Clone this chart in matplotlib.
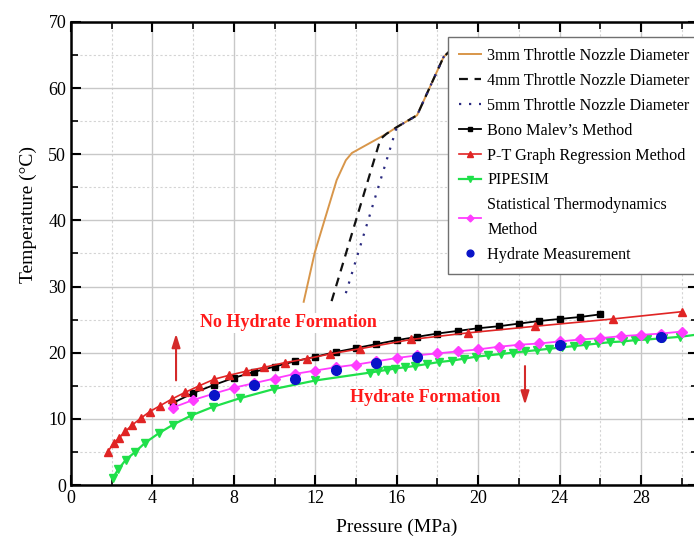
import matplotlib
matplotlib.use('Agg')
import matplotlib.pyplot as plt
from matplotlib.ticker import MultipleLocator

plt.rcParams['font.family'] = ['Liberation Serif', 'DejaVu Serif']

# throttle nozzle curves
nozzle3_p = [11.43, 11.97, 12.46, 13.05, 13.5, 13.8, 15.5, 16.0, 17.0, 18.3, 18.6]
nozzle3_t = [27.7, 35.1, 40.1, 46.1, 49.1, 50.2, 53.1, 54.1, 55.9, 64.7, 65.6]
nozzle4_p = [12.8, 15.2, 15.5, 16.0, 17.0, 18.3, 18.6]
nozzle4_t = [27.8, 52.3, 53.1, 54.1, 55.9, 64.7, 65.6]
nozzle5_p = [13.5, 16.0, 17.0, 18.3, 18.6]
nozzle5_t = [29.0, 54.1, 55.9, 64.7, 65.6]

# Bono Malev's method
bono_p = list(range(5, 27))
bono_t = [12.4, 13.9, 15.1, 16.2, 17.1, 17.9, 18.7, 19.4, 20.1, 20.7, 21.3,
          21.9, 22.4, 22.9, 23.3, 23.7, 24.0, 24.4, 24.8, 25.1, 25.4, 25.8]

# P-T graph regression
pt_p = [1.8, 2.09, 2.36, 2.66, 3.02, 3.43, 3.87, 4.38, 4.96, 5.6, 6.3, 7.04,
        7.78, 8.6, 9.5, 10.5, 11.6, 12.7, 14.2, 16.7, 19.5, 22.8, 26.6, 30.0]
pt_t = [5.0, 6.3, 7.1, 8.1, 9.1, 10.1, 11.1, 12.0, 13.0, 14.0, 15.0, 16.0,
        16.6, 17.2, 17.8, 18.5, 19.1, 19.8, 20.6, 22.0, 23.0, 24.0, 25.1, 26.2]

# PIPESIM
pipesim_p = [2.04, 2.33, 2.69, 3.15, 3.65, 4.3, 5.0, 5.9, 6.96, 8.28, 9.95, 12.0,
             14.7, 15.1, 15.5, 15.9, 16.4, 16.9, 17.5, 18.1, 18.7, 19.3, 19.9,
             20.5, 21.1, 21.7, 22.3, 22.9, 23.5, 24.1, 24.7, 25.3, 25.9, 26.5,
             27.1, 27.7, 28.3, 29.1, 29.9, 30.9]
pipesim_t = [1.0, 2.4, 3.8, 5.0, 6.4, 7.8, 9.1, 10.5, 11.8, 13.1, 14.5, 15.8,
             17.0, 17.2, 17.4, 17.6, 17.8, 18.0, 18.3, 18.6, 18.8, 19.1, 19.4,
             19.6, 19.8, 20.0, 20.2, 20.4, 20.6, 20.8, 21.0, 21.2, 21.4, 21.6,
             21.7, 21.9, 22.0, 22.2, 22.4, 22.8]

# statistical thermodynamics
stat_p = list(range(5, 31))
stat_t = [11.7, 12.85, 13.8, 14.7, 15.4, 16.1, 16.8, 17.3, 17.8, 18.2, 18.7,
          19.2, 19.6, 19.9, 20.2, 20.5, 20.9, 21.2, 21.4, 21.7, 22.0, 22.2,
          22.5, 22.7, 22.9, 23.2]

# hydrate measurement
meas_p = [7, 9, 11, 13, 15, 17, 24, 29]
meas_t = [13.6, 15.1, 16.1, 17.4, 18.5, 19.3, 21.2, 22.4]

fig = plt.figure(figsize=(6.94, 5.43), dpi=100)
ax = fig.add_axes([0.1023, 0.1068, 0.9035, 0.8527])

ax.plot(nozzle3_p, nozzle3_t, color='#d8964a', lw=1.4, label='3mm Throttle Nozzle Diameter')
ax.plot(nozzle4_p, nozzle4_t, color='#111111', lw=1.6, ls=(0, (4, 3)), label='4mm Throttle Nozzle Diameter')
ax.plot(nozzle5_p, nozzle5_t, color='#2b2b80', lw=1.6, ls=(0, (1, 3.5)), label='5mm Throttle Nozzle Diameter')
ax.plot(bono_p, bono_t, color='black', lw=1.3, marker='s', ms=4.5, label="Bono Malev\u2019s Method")
ax.plot(pt_p, pt_t, color='#e02424', lw=1.2, marker='^', ms=6, label='P-T Graph Regression Method')
ax.plot(pipesim_p, pipesim_t, color='#1fe04a', lw=1.6, marker='v', ms=6, label='PIPESIM')
ax.plot(stat_p, stat_t, color='#ff3cff', lw=1.3, marker='D', ms=5, label='Statistical Thermodynamics\nMethod')
ax.plot(meas_p, meas_t, ls='none', color='#0a14c8', marker='o', ms=7, label='Hydrate Measurement')

ax.text(10.7, 24.5, 'No Hydrate Formation', color='#ff1a1a', fontsize=13, fontweight='bold',
        ha='center', va='center', bbox=dict(facecolor='white', edgecolor='none', pad=1))
ax.text(17.4, 13.3, 'Hydrate Formation', color='#ff1a1a', fontsize=13, fontweight='bold',
        ha='center', va='center', bbox=dict(facecolor='white', edgecolor='none', pad=1))
ax.annotate('', xy=(5.16, 23.3), xytext=(5.16, 15.4),
            arrowprops=dict(arrowstyle='-|>,head_width=0.25,head_length=0.8', color='#d42a2a', lw=1.5))
ax.annotate('', xy=(22.3, 11.7), xytext=(22.3, 18.4),
            arrowprops=dict(arrowstyle='-|>,head_width=0.25,head_length=0.8', color='#d42a2a', lw=1.5))

ax.set_xlim(0, 30.8)
ax.set_ylim(0, 70)
ax.xaxis.set_major_locator(MultipleLocator(4))
ax.xaxis.set_minor_locator(MultipleLocator(2))
ax.yaxis.set_major_locator(MultipleLocator(10))
ax.yaxis.set_minor_locator(MultipleLocator(5))
ax.tick_params(which='both', direction='in', top=True, right=True, labelsize=13, color='black')
ax.tick_params(which='major', length=7, width=1.5)
ax.tick_params(which='minor', length=5, width=1.2)
ax.grid(which='major', color='#c8c8c8', lw=1.0)
ax.grid(which='minor', color='#d4d4d4', lw=0.8, ls=(0, (2, 2)))
ax.set_axisbelow(True)
for s in ax.spines.values():
    s.set_linewidth(1.8)

ax.set_xlabel('Pressure (MPa)', fontsize=14)
ax.set_ylabel('Temperature (°C)', fontsize=14)
ax.xaxis.set_label_coords(0.52, -0.072)
ax.yaxis.set_label_coords(-0.055, 0.585)

leg = ax.legend(loc='upper left', bbox_to_anchor=(0.601, 0.968), fontsize=11.6,
                frameon=True, fancybox=False, edgecolor='#707070', framealpha=1,
                handlelength=1.35, handletextpad=0.4, labelspacing=0.55, borderpad=0.7,
                borderaxespad=0, markerscale=0.7)
leg.get_frame().set_linewidth(1.0)
for t in leg.get_texts():
    t.set_linespacing(1.75)

fig.savefig('out.png', dpi=100)
